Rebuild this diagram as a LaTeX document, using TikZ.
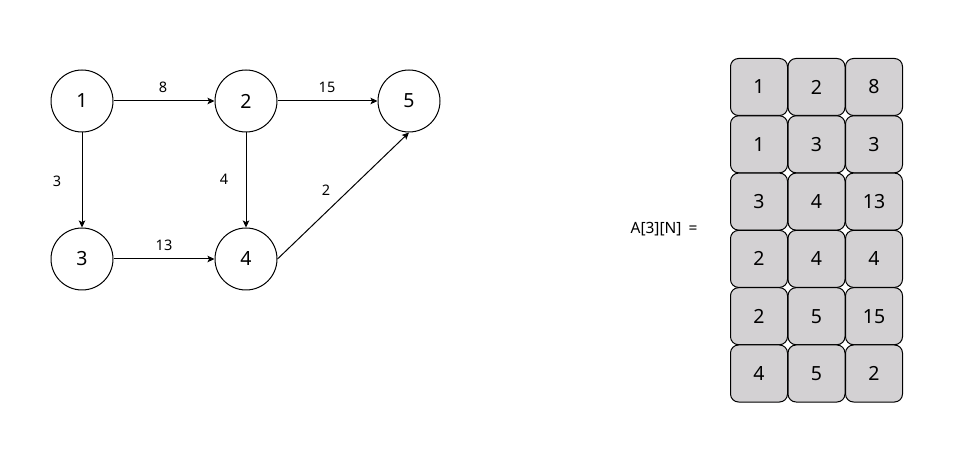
\documentclass[tikz,border=0pt]{standalone}
\usepackage{fontspec}
\setmainfont{Noto Sans}
\usetikzlibrary{arrows.meta,positioning}
\definecolor{cellgray}{RGB}{211,209,211}
\tikzset{
  every picture/.style={x=1pt, y=-1pt, line width=1pt, line join=round,
    >={Stealth[length=7pt,width=6.5pt,inset=1.5pt]}},
  % Knoten des Graphen
  vertex/.style={circle, draw, minimum size=62pt, inner sep=0pt,
    font=\fontsize{19.5}{23}\selectfont},
  edge/.style={->},
  wlbl/.style={font=\fontsize{14.5}{17}\selectfont, inner sep=1pt},
  % Zellen der Kantenliste
  cell/.style={draw, fill=cellgray, rounded corners=8pt, minimum size=57pt,
    inner sep=0pt, font=\fontsize{19.5}{23}\selectfont},
}
\begin{document}
\begin{tikzpicture}
  \useasboundingbox (0,0) rectangle (967,462);
  % Graph
  \node[vertex] (v1) at (82,101) {1};
  \node[vertex] (v2) at (246,101) {2};
  \node[vertex] (v5) at (409,101) {5};
  \node[vertex] (v3) at (82,259) {3};
  \node[vertex] (v4) at (246,259) {4};
  \draw[edge] (v1) -- (v2);
  \draw[edge] (v2) -- (v5);
  \draw[edge] (v1) -- (v3);
  \draw[edge] (v2) -- (v4);
  \draw[edge] (v3) -- (v4);
  \draw[edge] (v4.east) -- (v5.south);
  \node[wlbl] (w12) at (163,87) {8};
  \node[wlbl] (w25) at (327,87) {15};
  \node[wlbl] (w13) at (57,181) {3};
  \node[wlbl] (w24) at (224,179) {4};
  \node[wlbl] (w45) at (326,190) {2};
  \node[wlbl] (w34) at (164,245) {13};
  % Kantenliste A[3][N]
  \node[wlbl, font=\fontsize{15.5}{18}\selectfont] (lbl) at (664,229) {A[3][N]\hspace{7pt}=};
  \foreach \a/\b/\w [count=\r] in {1/2/8, 1/3/3, 3/4/13, 2/4/4, 2/5/15, 4/5/2} {
    \node[cell] (c\r-1) at (759,{87+57.3*(\r-1)}) {\a};
    \node[cell] (c\r-2) at (816.5,{87+57.3*(\r-1)}) {\b};
    \node[cell] (c\r-3) at (874,{87+57.3*(\r-1)}) {\w};
  }
\end{tikzpicture}
\end{document}
